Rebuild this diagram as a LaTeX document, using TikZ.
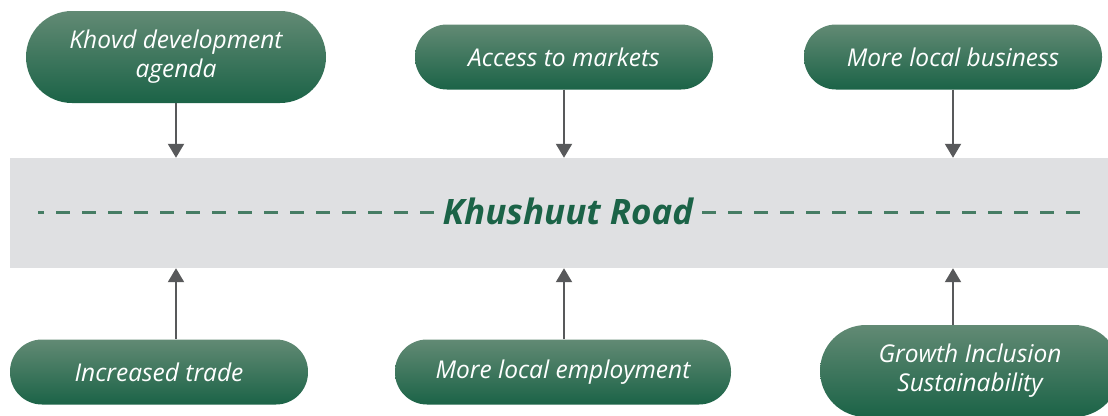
\documentclass[tikz,border=0pt]{standalone}
\usepackage{fontspec}
\setmainfont{Open Sans}
\usetikzlibrary{arrows.meta,shapes,positioning}
\definecolor{goaltop}{RGB}{98,138,116}
\definecolor{goalbot}{RGB}{27,99,71}
\definecolor{roadgray}{RGB}{223,224,226}
\definecolor{roadgreen}{RGB}{27,99,71}
\definecolor{dashgreen}{RGB}{70,125,100}
\definecolor{arrowgray}{RGB}{88,89,91}

\begin{document}
\begin{tikzpicture}[x=1pt,y=-1pt,>={Triangle[width=16pt,length=14pt]}]
  \tikzstyle{goal}=[rectangle,rounded corners=32pt,top color=goaltop,bottom color=goalbot,
                    text=white,minimum height=65pt,align=center,
                    font=\fontsize{24.5}{29}\selectfont\itshape]
  \tikzstyle{tall goal}=[goal,rounded corners=46pt,minimum height=92pt]
  \tikzstyle{feed}=[->,line width=2pt,draw=arrowgray,fill=arrowgray]
  \tikzstyle{roaddash}=[line width=3pt,draw=dashgreen,dash pattern=on 14pt off 12pt]
  \useasboundingbox (0,0) rectangle (1108,415);
  % the road
  \node [fill=roadgray,minimum width=1098pt,minimum height=110pt,inner sep=0pt] (road) at (559,213) {};
  \node [text=roadgreen,font=\fontsize{35}{40}\selectfont\bfseries\itshape,inner xsep=9pt] (title) at (568,211) {Khushuut Road};
  \coordinate (lend) at (38,212);
  \coordinate (rend) at (1080,212);
  \draw [roaddash] (title.west |- lend) -- (lend);
  \draw [roaddash] (title.east |- rend) -- (rend);
  % inputs above
  \node [tall goal,minimum width=300pt] (agenda) at (176,57) {Khovd development\\agenda};
  \node [goal,minimum width=298pt] (markets) at (564,57) {Access to markets};
  \node [goal,minimum width=298pt] (business) at (953,57) {More local business};
  % outcomes below
  \node [goal,minimum width=298pt] (trade) at (159,372) {Increased trade};
  \node [goal,minimum width=336pt] (employ) at (563,372) {More local employment};
  \node [tall goal,minimum width=300pt] (growth) at (970,371) {Growth Inclusion\\Sustainability};
  \draw [feed] (agenda) -- (agenda |- road.north);
  \draw [feed] (markets) -- (markets |- road.north);
  \draw [feed] (business) -- (business |- road.north);
  \draw [feed] (trade.north -| agenda) -- (agenda |- road.south);
  \draw [feed] (employ.north -| markets) -- (markets |- road.south);
  \draw [feed] (growth.north -| business) -- (business |- road.south);
\end{tikzpicture}
\end{document}
